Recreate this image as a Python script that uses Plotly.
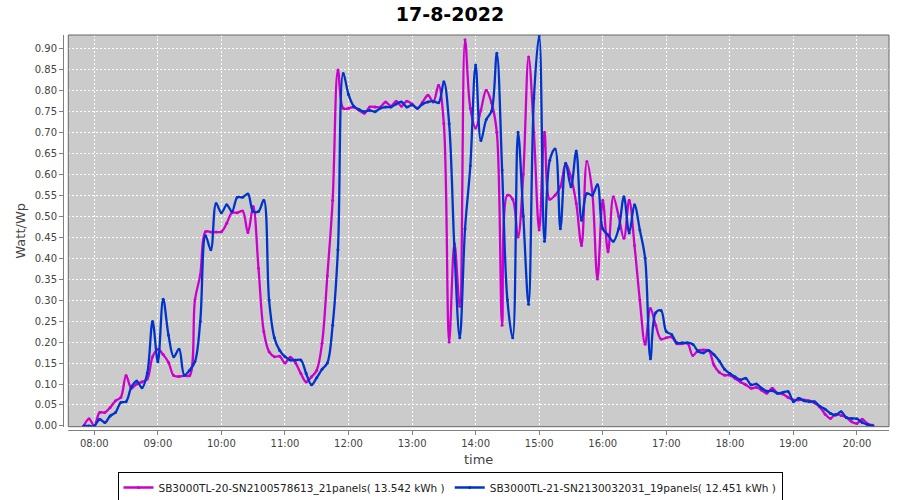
import plotly.graph_objects as go

TIMES = [
    "07:50", "07:55",
    "08:00", "08:05", "08:10", "08:15", "08:20", "08:25", "08:30", "08:35", "08:40", "08:45", "08:50", "08:55",
    "09:00", "09:05", "09:10", "09:15", "09:20", "09:25", "09:30", "09:35", "09:40", "09:45", "09:50", "09:55",
    "10:00", "10:05", "10:10", "10:15", "10:20", "10:25", "10:30", "10:35", "10:40", "10:45", "10:50", "10:55",
    "11:00", "11:05", "11:10", "11:15", "11:20", "11:25", "11:30", "11:35", "11:40", "11:45", "11:50", "11:55",
    "12:00", "12:05", "12:10", "12:15", "12:20", "12:25", "12:30", "12:35", "12:40", "12:45", "12:50", "12:55",
    "13:00", "13:05", "13:10", "13:15", "13:20", "13:25", "13:30", "13:35", "13:40", "13:45", "13:50", "13:55",
    "14:00", "14:05", "14:10", "14:15", "14:20", "14:25", "14:30", "14:35", "14:40", "14:45", "14:50", "14:55",
    "15:00", "15:05", "15:10", "15:15", "15:20", "15:25", "15:30", "15:35", "15:40", "15:45", "15:50", "15:55",
    "16:00", "16:05", "16:10", "16:15", "16:20", "16:25", "16:30", "16:35", "16:40", "16:45", "16:50", "16:55",
    "17:00", "17:05", "17:10", "17:15", "17:20", "17:25", "17:30", "17:35", "17:40", "17:45", "17:50", "17:55",
    "18:00", "18:05", "18:10", "18:15", "18:20", "18:25", "18:30", "18:35", "18:40", "18:45", "18:50", "18:55",
    "19:00", "19:05", "19:10", "19:15", "19:20", "19:25", "19:30", "19:35", "19:40", "19:45", "19:50", "19:55",
    "20:00", "20:05", "20:10", "20:15",
]

SN20_NAME = "SB3000TL-20-SN2100578613_21panels( 13.542 kWh )"
SN20 = [
    0.0, 0.017,
    0.0, 0.032, 0.032, 0.044, 0.06, 0.068, 0.12, 0.09, 0.10, 0.105, 0.112, 0.165,
    0.183, 0.17, 0.152, 0.12, 0.118, 0.12, 0.12, 0.30, 0.36, 0.463, 0.462, 0.462,
    0.463, 0.483, 0.508, 0.508, 0.512, 0.461, 0.523, 0.376, 0.225, 0.177, 0.165, 0.166,
    0.15, 0.164, 0.15, 0.125, 0.105, 0.117, 0.133, 0.197, 0.358, 0.537, 0.848, 0.757,
    0.757, 0.76, 0.752, 0.745, 0.76, 0.76, 0.76, 0.772, 0.762, 0.774, 0.762, 0.774,
    0.767, 0.757, 0.772, 0.788, 0.772, 0.812, 0.72, 0.20, 0.435, 0.285, 0.92, 0.757,
    0.71, 0.753, 0.80, 0.77, 0.70, 0.24, 0.55, 0.54, 0.45, 0.60, 0.879, 0.70,
    0.467, 0.70, 0.54, 0.55, 0.57, 0.625, 0.593, 0.53, 0.43, 0.63, 0.56, 0.35,
    0.538, 0.415, 0.546, 0.50, 0.447, 0.538, 0.43, 0.30, 0.195, 0.28, 0.24, 0.207,
    0.21, 0.212, 0.196, 0.196, 0.197, 0.168, 0.18, 0.181, 0.18, 0.145, 0.128, 0.121,
    0.121, 0.113, 0.105, 0.098, 0.09, 0.092, 0.085, 0.078, 0.09, 0.078, 0.076, 0.068,
    0.062, 0.062, 0.062, 0.06, 0.055, 0.045, 0.028, 0.018, 0.028, 0.025, 0.02, 0.01,
    0.006, 0.016, 0.005, 0.002,
]

SN21_NAME = "SB3000TL-21-SN2130032031_19panels( 12.451 kWh )"
SN21 = [
    0.0, 0.0,
    0.0, 0.016, 0.008, 0.024, 0.032, 0.056, 0.058, 0.093, 0.107, 0.091, 0.126, 0.249,
    0.153, 0.302, 0.217, 0.165, 0.183, 0.121, 0.133, 0.153, 0.249, 0.453, 0.42, 0.53,
    0.508, 0.527, 0.511, 0.545, 0.545, 0.553, 0.511, 0.511, 0.538, 0.30, 0.21, 0.18,
    0.165, 0.157, 0.157, 0.157, 0.125, 0.098, 0.115, 0.135, 0.15, 0.24, 0.42, 0.84,
    0.79, 0.762, 0.754, 0.749, 0.752, 0.749, 0.757, 0.76, 0.76, 0.767, 0.772, 0.76,
    0.765, 0.757, 0.767, 0.772, 0.774, 0.77, 0.82, 0.72, 0.42, 0.21, 0.47, 0.62,
    0.86, 0.68, 0.73, 0.75, 0.888, 0.61, 0.30, 0.21, 0.70, 0.50, 0.29, 0.78,
    0.93, 0.44, 0.633, 0.66, 0.47, 0.626, 0.57, 0.655, 0.49, 0.554, 0.55, 0.575,
    0.47, 0.455, 0.44, 0.47, 0.546, 0.46, 0.527, 0.467, 0.40, 0.16, 0.27, 0.275,
    0.225, 0.218, 0.198, 0.198, 0.198, 0.195, 0.178, 0.174, 0.18, 0.17, 0.155, 0.135,
    0.125, 0.117, 0.11, 0.114, 0.098, 0.10, 0.09, 0.083, 0.084, 0.078, 0.08, 0.082,
    0.058, 0.066, 0.06, 0.058, 0.058, 0.047, 0.04, 0.03, 0.026, 0.034, 0.02, 0.018,
    0.017, 0.008, 0.003, 0.0,
]

DAY = "2022-08-17"
TITLE = "17-8-2022"
X_TITLE = "time"
Y_TITLE = "Watt/Wp"

X = [f"{DAY} {t}" for t in TIMES]

FONT = "DejaVu Sans"
MAGENTA = "#CC00CC"
BLUE = "#0033CC"
AXIS_GREY = "#808080"
LABEL_GREY = "#444444"

fig = go.Figure()
for name, vals, col in [(SN20_NAME, SN20, MAGENTA), (SN21_NAME, SN21, BLUE)]:
    fig.add_trace(go.Scatter(
        x=X, y=vals, name=name, mode="lines+markers",
        line=dict(color=col, width=2.3, shape="spline", smoothing=1.0),
        marker=dict(size=3, color=col),
    ))

fig.update_layout(
    width=900, height=500,
    paper_bgcolor="white",
    plot_bgcolor="#CBCBCB",
    margin=dict(l=63, r=11, t=35, b=70),
    title=dict(text=f"<b>{TITLE}</b>", font=dict(family=FONT, size=19, color="black"),
               x=0.5, xref="container", xanchor="center",
               y=1 - 14 / 500, yref="container", yanchor="middle"),
    showlegend=True,
    legend=dict(orientation="h", x=0.5, xanchor="center", xref="container",
                y=1 - 487.5 / 500, yref="container", yanchor="middle",
                bordercolor="black", borderwidth=1, bgcolor="white",
                font=dict(family=FONT, size=10.5, color="#222222"),
                itemwidth=30, tracegroupgap=0),
    xaxis=dict(
        type="date", domain=[0.0064, 1], anchor="free", position=0,
        range=[f"{DAY} 07:35:26", f"{DAY} 20:30:15"],
        tick0=f"{DAY} 08:00", dtick=3600000, tickformat="%H:%M",
        showgrid=True, gridcolor="white", gridwidth=1, griddash="2px,2px",
        showline=True, linecolor=AXIS_GREY, linewidth=1,
        ticks="outside", ticklen=4, tickcolor=AXIS_GREY,
        tickfont=dict(family=FONT, size=10, color=LABEL_GREY),
        title=dict(text=X_TITLE, font=dict(family=FONT, size=13, color=LABEL_GREY), standoff=6),
        zeroline=False, automargin=False,
    ),
    yaxis=dict(
        domain=[0.0084, 1], anchor="free", position=0,
        range=[-0.0017, 0.9316],
        tick0=0, dtick=0.05, tickformat=".2f",
        showgrid=True, gridcolor="white", gridwidth=1, griddash="2px,2px",
        showline=True, linecolor=AXIS_GREY, linewidth=1,
        ticks="outside", ticklen=4, tickcolor=AXIS_GREY,
        tickfont=dict(family=FONT, size=10, color=LABEL_GREY),
        title=dict(text=Y_TITLE, font=dict(family=FONT, size=13, color=LABEL_GREY), standoff=5),
        zeroline=False, automargin=False,
    ),
    shapes=[dict(type="rect", xref="x domain", yref="y domain", x0=0, x1=1, y0=0, y1=1,
                 line=dict(color="#666666", width=1), fillcolor="rgba(0,0,0,0)", layer="above")],
)

fig.write_html("out.html",
               config={"displayModeBar": False},
               post_script="document.body.style.margin='0px';document.body.style.overflow='hidden';")
